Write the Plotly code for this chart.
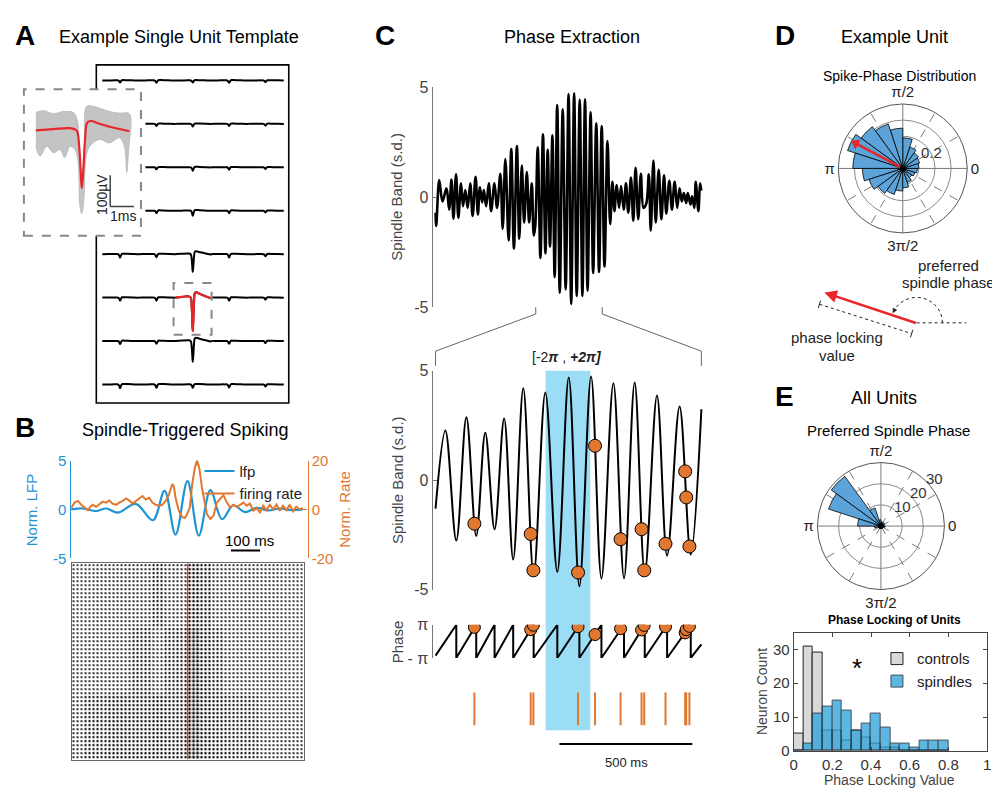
import math
import plotly.graph_objects as go

OFF = 8                      # browser body margin
FW, FH = 1000 - OFF, 794 - OFF
def X(p): return (p - OFF) / FW
def Y(p): return 1 - (p - OFF) / FH

FONT = "Liberation Sans, Arial, Helvetica, sans-serif"
BLUE = "#1E94D2"
ORANGE = "#E2772F"
RED = "#E8262A"
WEDGE = "#5BA3D9"
HIST_BLUE = "#2FA4DC"

# ---------------- DATA ----------------
# A: spike template (mean waveform) and cloud of single spikes
template_t = [0, 0.74, 1.43, 1.71, 1.82, 1.88, 1.93, 1.99, 2.07, 2.15, 2.29, 2.68, 3.24, 3.93]
template_uv = [0, 4, 7, 0, -51, -124, -185, -135, -29, 23, 30, 21, 9, -3]
cloud_up_t = [0, 0.32, 0.74, 1.15, 1.57, 1.74, 1.82, 1.93, 2.04, 2.13, 2.33, 2.68, 3.10, 3.51, 3.93]
cloud_up_uv = [57, 63, 53, 60, 57, 34, -51, -156, -51, 76, 78, 71, 60, 55, 53]
cloud_lo_t = [0, 0.18, 0.46, 0.74, 1.01, 1.22, 1.43, 1.64, 1.78, 1.85, 1.93, 2.01, 2.10, 2.26, 2.68, 3.10, 3.51, 3.72, 3.82, 3.90, 3.93]
cloud_lo_uv = [-51, -82, -51, -72, -61, -87, -51, -61, -103, -240, -266, -230, -93, -51, -29, -40, -24, -51, -135, -61, -40]
channel_amp = [
    [0.06, 0.07, 0.06, 0.07, 0.05],
    [0.05, 0.06, 0.08, 0.06, 0.05],
    [0.05, 0.06, 0.10, 0.07, 0.05],
    [0.06, 0.07, 0.15, 0.07, 0.05],
    [0.10, 0.09, 0.53, 0.10, 0.06],
    [0.09, 0.09, 1.00, 0.09, 0.06],
    [0.09, 0.08, 0.62, 0.08, 0.06],
    [0.11, 0.10, 0.10, 0.09, 0.06],
]
red_channel = 5
red_column = 2

# B: spindle-triggered average
lfp_t = [-400, -360, -315, -280, -240, -178, -119, -79, -41, 0, 39, 79, 119, 158, 198, 238, 278, 318, 358, 398]
lfp_v = [0, 0.1, -0.17, 0.1, -0.33, 0.57, -1.1, 1.9, -2.57, 2.9, -2.67, 1.97, -1.0, 0.43, -0.27, 0.17, -0.1, 0.1, -0.07, 0]
rate_t = [-400, -389, -377, -366, -354, -343, -335, -326, -315, -303, -292, -280, -269, -258, -246, -235, -223, -212, -201, -189,
          -178, -166, -155, -144, -132, -121, -109, -98, -87, -75, -64, -52, -47, -41, -30, -18, -9, -1, 8, 16,
          25, 33, 41, 50, 59, 67, 79, 90, 101, 113, 124, 136, 147, 158, 170, 181, 193, 204, 215, 227,
          238, 250, 261, 272, 284, 295, 307, 318, 329, 341, 352, 364, 375, 386, 398]
rate_v = [0.8, 2.8, 3.5, 1.9, 0.8, -0.3, 1.1, 1.9, 1.1, 2.4, 3.2, 2.8, 3.7, 2.4, 1.9, 2.8, 3.5, 4.5, 3.7, 2.4,
          3.5, 4.8, 5.5, 4.1, 4.8, 2.8, 1.9, 1.5, 1.9, 3.5, 6.1, 10.4, 9.5, 4.8, -0.5, -3.2, -3.5, -1.9, 0.8, 10.1,
          16.8, 20.1, 16.8, 8.8, 2.8, -1.9, -3.9, -2.5, 2.8, 4.5, 5.9, 2.8, 0.8, 1.9, 1.1, 1.9, 2.8, 1.5, 2.4, -0.5,
          0.5, -1.2, 1.5, -0.3, 1.9, 0.1, 2.1, -0.5, 1.5, -0.3, 1.9, -0.8, 1.1, 0.1, 0.5]
# raster: spike ink density per 40-ms bin, three blocks of trials (top, middle, bottom)
raster_bin_ms = [-380, -340, -300, -260, -220, -180, -140, -100, -60, -20, 20, 60, 100, 140, 180, 220, 260, 300, 340, 380]
raster_density = [
    [0.20, 0.21, 0.23, 0.23, 0.24, 0.24, 0.24, 0.25, 0.24, 0.24, 0.36, 0.28, 0.24, 0.23, 0.22, 0.23, 0.22, 0.22, 0.21, 0.20],
    [0.21, 0.22, 0.23, 0.24, 0.24, 0.25, 0.25, 0.24, 0.25, 0.26, 0.38, 0.29, 0.25, 0.24, 0.23, 0.23, 0.22, 0.23, 0.21, 0.21],
    [0.24, 0.25, 0.26, 0.27, 0.27, 0.28, 0.28, 0.29, 0.28, 0.28, 0.40, 0.31, 0.27, 0.26, 0.25, 0.25, 0.24, 0.24, 0.23, 0.23],
]

# C: spindle band signal (extrema), 4 s overview; middle 1 s zoom
top_pre_t = [0, 10, 55, 104, 164, 204, 239, 269, 308, 343, 383, 413, 448, 483, 522, 557, 602, 637, 667, 701,
             726, 761, 801, 836, 886, 925, 975, 1010, 1050, 1099, 1139, 1179, 1224, 1259, 1298, 1333, 1373, 1408, 1448, 1478]
top_pre_v = [-0.7, -1.3, 0.78, -0.19, 0.41, -0.56, 0.81, -0.97, 1.04, -0.93, 0.63, -0.41, 0.33, -0.48, 0.63, -0.85, 0.93, -0.78, 0.45, -0.23,
             0.33, -0.41, 0.63, -0.63, 0.63, -0.48, 1.07, -1.44, 1.74, -1.96, 2.19, -2.33, 2.33, -1.89, 1.44, -1.15, 1.15, -1.15, 0.63, -1.74]
zoom_start_ms = 1500
mid_t = [0, 37, 78, 116, 153, 187, 222, 258, 292, 330, 369, 413, 458, 501, 541, 585, 624, 669, 709, 749, 787, 833, 871, 918, 960, 1000]
mid_v = [-1.3, 2.27, -2.76, 2.87, -2.55, 2.16, -2.24, 2.82, -3.63, 4.2, -4.34, 4.0, -4.19, 4.69, -4.85, 4.73, -4.49, 4.43, -4.49, 4.46,
         -4.25, 3.87, -3.45, 3.36, -3.40, 3.24]
top_post_t = [2542, 2587, 2627, 2661, 2691, 2726, 2761, 2791, 2831, 2865, 2900, 2940, 2975, 3010, 3050, 3089, 3129, 3170, 3209, 3238,
              3278, 3313, 3358, 3398, 3438, 3472, 3517, 3557, 3597, 3637, 3671, 3706, 3736, 3771, 3796, 3836, 3860, 3895, 3915, 3955, 3980, 3998]
top_post_v = [-3.15, 2.56, -1.22, 0.70, -0.63, 0.56, -0.48, 0.51, -0.56, 0.63, -0.70, 0.9, -1.07, 1.34, -1.0, 1.07, -0.48, -0.3, 1.04, -1.52,
              1.67, -1.15, 1.25, -1.0, 1.0, -0.74, 0.75, -0.56, 0.70, -0.48, 0.41, -0.19, 0.19, -0.26, 0.19, -0.33, 0.04, -0.48, 0.70, -0.63, 0.63, 0.3]
spk_t = [146, 358, 368, 536, 600, 696, 775, 785, 865, 939, 943, 955]
spk_v = [-1.99, -2.46, -4.12, -4.22, 1.57, -2.70, -2.24, -4.12, -2.91, 0.40, -0.79, -3.03]
spk_phase = [2.65, 2.22, 3.05, 2.77, 1.29, 2.40, 2.16, 3.02, 2.77, 1.60, 2.22, 2.83]
phase_start = -2.7
phase_end = -0.55
window_ms = [414, 582]

# D: spike-phase distribution of example unit (rose, 20 bins)
rose_theta = [9, 27, 45, 63, 81, 99, 117, 135, 153, 171, 189, 207, 225, 243, 261, 279, 297, 315, 333, 351]
rose_d = [0.10, 0.11, 0.12, 0.14, 0.19, 0.25, 0.29, 0.32, 0.36, 0.31, 0.25, 0.22, 0.19, 0.17, 0.14, 0.12, 0.09, 0.07, 0.08, 0.09]
rose_d_ticks = [0.1, 0.2, 0.3, 0.4]
rose_d_labels = ["", "0.2", "", ""]
pref_phase_deg = 152
plv = 0.355

# E: preferred phase of all units (rose, 20 bins) and PLV histograms
rose_e = [1, 2, 1, 2, 2, 3, 9, 29, 26, 11, 3, 1, 1, 1, 1, 1, 1, 1, 1, 2]
rose_e_ticks = [10, 20, 30]
rose_e_labels = ["10", "20", "30"]
plv_bins = [0.025, 0.075, 0.125, 0.175, 0.225, 0.275, 0.325, 0.375, 0.425, 0.475, 0.525, 0.575, 0.625, 0.675, 0.725, 0.775]
controls = [5, 31, 29, 6, 6, 3, 6, 4, 2, 1, 1, 0, 0, 0, 0, 0]
spindles = [0, 2, 11, 13, 15, 12, 6, 8, 11, 7, 2, 2, 1, 3, 3, 3]

# ---------------- FIGURE ----------------
fig = go.Figure()
NOLEG = dict(showlegend=False, hoverinfo="skip")

# ---- A: multichannel template ----
A_PX = (93, 287)
A_PY = (57, 403)
A_XR = [-0.65, 20.27]
A_YR = [-1782, 86]
INSET_PX = (20, 138)
INSET_PY = (82, 232)
def a_x_from_px(p): return A_XR[0] + (p - A_PX[0]) / (A_PX[1] - A_PX[0]) * (A_XR[1] - A_XR[0])
def a_y_from_px(p): return A_YR[1] - (p - A_PY[0]) / (A_PY[1] - A_PY[0]) * (A_YR[1] - A_YR[0])
inset_right = a_x_from_px(INSET_PX[1])
inset_top, inset_bot = a_y_from_px(INSET_PY[0]), a_y_from_px(INSET_PY[1])

SEG = 3.95
ROW_SP = 240
for r, amps in enumerate(channel_amp):
    base = -r * ROW_SP
    hidden_row = inset_bot < base < inset_top
    xs, ys = [], []
    for c, a in enumerate(amps):
        for t, v in zip(template_t, template_uv):
            x = c * SEG + t
            if hidden_row and x < inset_right:
                continue
            xs.append(x)
            ys.append(base + a * v)
    fig.add_trace(go.Scatter(x=xs, y=ys, mode="lines", line=dict(color="black", width=2, shape="spline"),
                             xaxis="x", yaxis="y", **NOLEG))
fig.add_trace(go.Scatter(x=[red_column * SEG + t for t in template_t],
                         y=[-red_channel * ROW_SP + channel_amp[red_channel][red_column] * v for v in template_uv],
                         mode="lines", line=dict(color=RED, width=2.2, shape="spline"), xaxis="x", yaxis="y", **NOLEG))

# ---- A inset ----
fig.add_trace(go.Scatter(x=cloud_up_t + cloud_lo_t[::-1], y=cloud_up_uv + cloud_lo_uv[::-1], fill="toself",
                         fillcolor="#C4C4C4", mode="lines", line=dict(color="#BDBDBD", width=1, shape="spline"),
                         xaxis="x2", yaxis="y2", **NOLEG))
fig.add_trace(go.Scatter(x=template_t, y=template_uv, mode="lines", line=dict(color=RED, width=2.2, shape="spline"),
                         xaxis="x2", yaxis="y2", **NOLEG))

# ---- B top ----
fig.add_trace(go.Scatter(x=lfp_t, y=lfp_v, mode="lines", line=dict(color=BLUE, width=2.2, shape="spline"),
                         name="lfp", xaxis="x3", yaxis="y3", legend="legend", hoverinfo="skip"))
fig.add_trace(go.Scatter(x=rate_t, y=rate_v, mode="lines", line=dict(color=ORANGE, width=2),
                         name="firing rate", xaxis="x3", yaxis="y4", legend="legend", hoverinfo="skip"))

# ---- B raster ----
for b, dens in enumerate(raster_density):
    fig.add_trace(go.Bar(x=raster_bin_ms, y=[1] * len(raster_bin_ms), base=[2 - b] * len(raster_bin_ms), width=40,
                         marker=dict(color="white", line=dict(width=0),
                                     pattern=dict(shape=".", size=4, solidity=dens, fgcolor="black", fgopacity=1)),
                         xaxis="x5", yaxis="y5", **NOLEG))
fig.add_trace(go.Scatter(x=[0, 0], y=[0, 3], mode="lines", line=dict(color="#F03030", width=1.3),
                         xaxis="x5", yaxis="y5", **NOLEG))

# ---- C top ----
top_t = top_pre_t + [zoom_start_ms + t for t in mid_t] + top_post_t
top_v = top_pre_v + mid_v + top_post_v
fig.add_trace(go.Scatter(x=top_t, y=top_v, mode="lines", line=dict(color="black", width=2.6, shape="spline"),
                         xaxis="x6", yaxis="y6", **NOLEG))

# ---- C middle ----
fig.add_trace(go.Scatter(x=mid_t, y=mid_v, mode="lines", line=dict(color="black", width=2, shape="spline"),
                         xaxis="x7", yaxis="y7", **NOLEG))
fig.add_trace(go.Scatter(x=spk_t, y=spk_v, mode="markers",
                         marker=dict(size=13, color=ORANGE, line=dict(color="black", width=1)),
                         xaxis="x7", yaxis="y7", **NOLEG))

# ---- C phase ----
troughs = [t for t, v in zip(mid_t, mid_v) if v < 0 and 0 < t < 1000]
ph_x, ph_y = [0], [phase_start]
for t in troughs:
    ph_x += [t, t]
    ph_y += [math.pi, -math.pi]
ph_x.append(1000)
ph_y.append(phase_end)
fig.add_trace(go.Scatter(x=ph_x, y=ph_y, mode="lines", line=dict(color="black", width=2),
                         xaxis="x8", yaxis="y8", **NOLEG))
fig.add_trace(go.Scatter(x=spk_t, y=spk_phase, mode="markers",
                         marker=dict(size=12, color=ORANGE, line=dict(color="black", width=1)),
                         xaxis="x8", yaxis="y8", **NOLEG))

# ---- C spike ticks ----
tx, ty = [], []
for t in spk_t:
    tx += [t, t, None]
    ty += [0, 1, None]
fig.add_trace(go.Scatter(x=tx, y=ty, mode="lines", line=dict(color=ORANGE, width=2),
                         xaxis="x9", yaxis="y9", **NOLEG))

# ---- D polar ----
fig.add_trace(go.Scatterpolar(r=[0], theta=[0], mode="markers", marker=dict(size=1, opacity=0), subplot="polar", **NOLEG))
fig.add_trace(go.Barpolar(r=rose_d, theta=rose_theta, width=[18] * len(rose_theta),
                          marker=dict(color=WEDGE, line=dict(color="black", width=0.8)), subplot="polar2", **NOLEG))
fig.add_trace(go.Scatterpolar(r=[0, plv * 0.93], theta=[pref_phase_deg, pref_phase_deg], mode="lines",
                              line=dict(color=RED, width=2.5), subplot="polar2", **NOLEG))
fig.add_trace(go.Scatterpolar(r=[plv * 0.93], theta=[pref_phase_deg], mode="markers",
                              marker=dict(symbol="triangle-up", size=10, color=RED, angle=-(pref_phase_deg - 90)),
                              subplot="polar2", **NOLEG))
fig.add_trace(go.Scatterpolar(r=[0], theta=[0], mode="markers", marker=dict(size=6, color="black"),
                              subplot="polar2", **NOLEG))

# ---- E polar ----
fig.add_trace(go.Scatterpolar(r=[0], theta=[0], mode="markers", marker=dict(size=1, opacity=0), subplot="polar3", **NOLEG))
fig.add_trace(go.Barpolar(r=rose_e, theta=rose_theta, width=[18] * len(rose_theta),
                          marker=dict(color=WEDGE, line=dict(color="black", width=0.8)), subplot="polar4", **NOLEG))
fig.add_trace(go.Scatterpolar(r=[0], theta=[0], mode="markers", marker=dict(size=6, color="black"),
                              subplot="polar4", **NOLEG))

# ---- E histogram ----
fig.add_trace(go.Bar(x=plv_bins, y=controls, width=0.05, name="controls",
                     marker=dict(color="#D9D9D9", line=dict(color="#222", width=1)),
                     xaxis="x10", yaxis="y10", legend="legend2", hoverinfo="skip"))
fig.add_trace(go.Bar(x=plv_bins, y=spindles, width=0.05, name="spindles", opacity=0.78,
                     marker=dict(color=HIST_BLUE, line=dict(color="#10202c", width=1)),
                     xaxis="x10", yaxis="y10", legend="legend2", hoverinfo="skip"))

# ---------------- AXES ----------------
lay = {}
lay["xaxis"] = dict(domain=[X(A_PX[0]), X(A_PX[1])], range=A_XR, anchor="y", visible=False)
lay["yaxis"] = dict(domain=[Y(A_PY[1]), Y(A_PY[0])], range=A_YR, anchor="x", visible=False)
lay["xaxis2"] = dict(domain=[X(INSET_PX[0]), X(INSET_PX[1])], range=[-0.5, 4.417], anchor="y2", visible=False)
lay["yaxis2"] = dict(domain=[Y(INSET_PY[1]), Y(INSET_PY[0])], range=[-337.5, 131.25], anchor="x2", visible=False)

lay["xaxis3"] = dict(domain=[X(67), X(306)], range=[-403, 414], visible=False, anchor="y3")
yb = dict(showgrid=False, zeroline=False, ticks="inside", ticklen=4, showline=True, linewidth=1.2)
lay["yaxis3"] = dict(domain=[Y(562), Y(462)], range=[-5, 5], tickvals=[-5, 0, 5], ticktext=["-5", "0", "5"],
                     anchor="x3", linecolor=BLUE, tickcolor=BLUE,
                     tickfont=dict(size=15, color=BLUE, family=FONT), **yb)
lay["yaxis4"] = dict(range=[-20, 20], tickvals=[-20, 0, 20], ticktext=["-20", "0", "20"], overlaying="y3",
                     side="right", anchor="x3", linecolor=ORANGE, tickcolor=ORANGE,
                     tickfont=dict(size=15, color=ORANGE, family=FONT), **yb)

rbox = dict(showline=True, mirror=True, linecolor="#666", linewidth=1, ticks="", showticklabels=False,
            showgrid=False, zeroline=False)
lay["xaxis5"] = dict(domain=[X(68), X(302)], range=[-400, 400], anchor="y5", **rbox)
lay["yaxis5"] = dict(domain=[Y(768), Y(567)], range=[0, 3], anchor="x5", **rbox)

cy = dict(showgrid=False, zeroline=False, ticks="inside", ticklen=4, showline=True, linecolor="#777",
          tickcolor="#777", linewidth=1, tickfont=dict(size=16, color="#444", family=FONT))
lay["xaxis6"] = dict(domain=[X(432), X(705)], range=[-45, 4030], visible=False, anchor="y6")
lay["yaxis6"] = dict(domain=[Y(305), Y(80)], range=[-5, 5], tickvals=[-5, 0, 5], ticktext=["-5", "0", "5"], anchor="x6", **cy)
lay["xaxis7"] = dict(domain=[X(432), X(705)], range=[-11.2, 1007.5], visible=False, anchor="y7")
lay["yaxis7"] = dict(domain=[Y(594), Y(370)], range=[-5, 5], tickvals=[-5, 0, 5], ticktext=["-5", "0", "5"], anchor="x7", **cy)
lay["xaxis8"] = dict(domain=[X(432), X(705)], range=[-11.2, 1007.5], visible=False, anchor="y8")
lay["yaxis8"] = dict(domain=[Y(664), Y(630)], range=[-math.pi, math.pi], tickvals=[-math.pi, math.pi],
                     ticktext=["- π", "π"], anchor="x8", **cy)
lay["xaxis9"] = dict(domain=[X(432), X(705)], range=[-11.2, 1007.5], visible=False, anchor="y9")
lay["yaxis9"] = dict(domain=[Y(733), Y(699)], range=[0, 1], visible=False, anchor="x9")

hx = dict(showgrid=False, zeroline=False, ticks="inside", ticklen=4, showline=True, mirror="ticks",
          linecolor="#444", tickcolor="#444", linewidth=1, tickfont=dict(size=15, color="#333", family=FONT))
lay["xaxis10"] = dict(domain=[X(796), X(991)], range=[0, 1], tickvals=[0, 0.2, 0.4, 0.6, 0.8, 1],
                      ticktext=["0", "0.2", "0.4", "0.6", "0.8", "1"], anchor="y10", **hx)
lay["yaxis10"] = dict(domain=[Y(759), Y(638)], range=[0, 35], tickvals=[0, 10, 20, 30], anchor="x10", **hx)

def polar_grid(cx, cy_, rad, rmax, rtick):
    return dict(domain=dict(x=[X(cx - rad), X(cx + rad)], y=[Y(cy_ + rad), Y(cy_ - rad)]), bgcolor="white",
                angularaxis=dict(rotation=0, direction="counterclockwise", tickmode="array",
                                 tickvals=[0, 90, 180, 270], ticktext=["0", "π/2", "π", "3π/2"],
                                 showgrid=True, gridcolor="#7a7a7a", gridwidth=1, showline=True,
                                 linecolor="#555", linewidth=1, ticks="",
                                 tickfont=dict(size=15, family=FONT, color="#222")),
                radialaxis=dict(range=[0, rmax], tickmode="array", tickvals=rtick, showticklabels=False,
                                showgrid=True, gridcolor="#8a8a8a", showline=False, ticks=""))

def polar_top(cx, cy_, rad, rmax):
    return dict(domain=dict(x=[X(cx - rad), X(cx + rad)], y=[Y(cy_ + rad), Y(cy_ - rad)]),
                bgcolor="rgba(0,0,0,0)",
                angularaxis=dict(rotation=0, direction="counterclockwise", tickmode="array",
                                 tickvals=[30, 60, 120, 150, 210, 240, 300, 330], showticklabels=False,
                                 showgrid=True, gridcolor="#7a7a7a", griddash="dash", showline=False, ticks=""),
                radialaxis=dict(range=[0, rmax], showgrid=False, showticklabels=False, showline=False, ticks=""))

D_C, D_R = (906, 163), 66
E_C, E_R = (884, 529), 65
lay["polar"] = polar_grid(D_C[0], D_C[1], D_R, 0.4, rose_d_ticks)
lay["polar2"] = polar_top(D_C[0], D_C[1], D_R, 0.4)
lay["polar3"] = polar_grid(E_C[0], E_C[1], E_R, 30, rose_e_ticks)
lay["polar4"] = polar_top(E_C[0], E_C[1], E_R, 30)

# ---------------- SHAPES ----------------
def prect(x0, y0, x1, y1, **kw):
    d = dict(type="rect", xref="paper", yref="paper", x0=X(x0), x1=X(x1), y0=Y(y1), y1=Y(y0))
    d.update(kw)
    return d
def pline(pts, color="#666", width=1, dash="solid"):
    path = "M " + " L ".join(f"{X(a):.5f},{Y(b):.5f}" for a, b in pts)
    return dict(type="path", xref="paper", yref="paper", path=path, line=dict(color=color, width=width, dash=dash))

shapes = []
shapes.append(prect(A_PX[0], A_PY[0], A_PX[1], A_PY[1], line=dict(color="black", width=1.6),
                    fillcolor="rgba(0,0,0,0)", layer="below"))
shapes.append(prect(INSET_PX[0], INSET_PY[0], INSET_PX[1], INSET_PY[1], line=dict(color="#888", width=2, dash="dash"),
                    fillcolor="white", layer="below"))
x_lo = red_column * SEG - 0.15
x_hi = red_column * SEG + template_t[-1] + 0.05
y_base = -red_channel * ROW_SP
shapes.append(dict(type="rect", xref="x", yref="y", x0=x_lo, x1=x_hi, y0=y_base - 205, y1=y_base + 81,
                   line=dict(color="#888", width=2, dash="dash"), fillcolor="rgba(0,0,0,0)"))
shapes.append(dict(type="line", xref="x2", yref="y2", x0=3.125, x1=3.125, y0=-143.75, y1=-243.75,
                   line=dict(color="#444", width=1.5)))
shapes.append(dict(type="line", xref="x2", yref="y2", x0=3.125, x1=4.125, y0=-243.75, y1=-243.75,
                   line=dict(color="#444", width=1.5)))
shapes.append(dict(type="line", xref="x3", yref="y3", x0=150, x1=250, y0=-4.2, y1=-4.2,
                   line=dict(color="black", width=2)))
shapes.append(dict(type="rect", xref="x7", yref="paper", x0=window_ms[0], x1=window_ms[1], y0=Y(738), y1=Y(370),
                   fillcolor="#9ADDF5", line=dict(width=0), layer="below"))
shapes.append(pline([(536, 305), (536, 312), (435, 350), (435, 365)]))
shapes.append(pline([(603, 305), (603, 312), (703, 350), (703, 365)]))
shapes.append(dict(type="line", xref="x7", yref="paper", x0=466, x1=966, y0=Y(752), y1=Y(752),
                   line=dict(color="black", width=2)))
shapes.append(pline([(920, 321), (970, 321)], color="#222", width=1, dash="dot"))
shapes.append(pline([(822, 302), (915, 332)], color="#222", width=1, dash="dot"))
for (ex, ey) in [(822, 302), (915, 332)]:
    shapes.append(pline([(ex + 1.2, ey - 3.8), (ex - 1.2, ey + 3.8)], color="#222", width=1))
cxp, cyp, rr = 920, 321, 26
def arcseg(a0, a1):
    k = 4 / 3 * math.tan(math.radians(a1 - a0) / 4)
    p0 = (cxp + rr * math.cos(math.radians(a0)), cyp - rr * math.sin(math.radians(a0)))
    p3 = (cxp + rr * math.cos(math.radians(a1)), cyp - rr * math.sin(math.radians(a1)))
    p1 = (p0[0] - k * rr * math.sin(math.radians(a0)), p0[1] - k * rr * math.cos(math.radians(a0)))
    p2 = (p3[0] + k * rr * math.sin(math.radians(a1)), p3[1] + k * rr * math.cos(math.radians(a1)))
    return p0, p1, p2, p3
s1 = arcseg(0, 90)
s2 = arcseg(90, 158)
def P(p): return f"{X(p[0]):.5f},{Y(p[1]):.5f}"
arc_path = f"M {P(s1[0])} C {P(s1[1])} {P(s1[2])} {P(s1[3])} C {P(s2[1])} {P(s2[2])} {P(s2[3])}"
shapes.append(dict(type="path", xref="paper", yref="paper", path=arc_path, line=dict(color="#222", width=1, dash="dot")))

# ---------------- ANNOTATIONS ----------------
def ann(text, x, y, size=15, color="black", angle=0, xanchor="center", yanchor="middle"):
    return dict(text=text, x=X(x), y=Y(y), xref="paper", yref="paper", showarrow=False, textangle=angle,
                xanchor=xanchor, yanchor=yanchor, font=dict(size=size, color=color, family=FONT))

anns = [
    ann("<b>A</b>", 21, 27, 28), ann("Example Single Unit Template", 176, 28, 18),
    ann("<b>B</b>", 21, 428, 28), ann("Spindle-Triggered Spiking", 182, 431, 18),
    ann("<b>C</b>", 384, 27, 28), ann("Phase Extraction", 573, 28, 18),
    ann("<b>D</b>", 787, 27, 28), ann("Example Unit", 898, 28, 18),
    ann("<b>E</b>", 787, 396, 28), ann("All Units", 887, 398, 18),
    ann("Spike-Phase Distribution", 903, 68, 14),
    ann("Preferred Spindle Phase", 892, 431, 15),
    ann("<b>Phase Locking of Units</b>", 898, 625, 12),
    ann("100µV", 99, 190, 14, "#222", -90),
    ann("1ms", 120, 212, 14, "#222"),
    ann("Norm. LFP", 28, 512, 15, BLUE, -90),
    ann("Norm. Rate", 343, 512, 15, ORANGE, -90),
    ann("100 ms", 247, 544, 15),
    ann("Spindle Band (s.d.)", 396, 192, 15, "#444", -90),
    ann("Spindle Band (s.d.)", 396, 482, 15, "#444", -90),
    ann("Phase", 396, 647, 15, "#444", -90),
    ann("[-2<b><i>π</i></b> , <b><i>+2π]</i></b>", 568, 356, 14, "#222"),
    ann("500 ms", 627, 771, 13, "#222"),
    ann("preferred", 952, 262, 15, "#222"),
    ann("spindle phase", 952, 280, 15, "#222"),
    ann("phase locking", 840, 336, 15, "#222"),
    ann("value", 840, 354, 15, "#222"),
    ann("Neuron Count", 764, 698, 14, "#444", -90),
    ann("Phase Locking Value", 893, 789, 14, "#444"),
    ann("*", 860, 674, 26, "black"),
]
for tv, tl in zip(rose_d_ticks, rose_d_labels):
    if tl:
        rp = tv / 0.4 * D_R
        anns.append(ann(tl, D_C[0] + rp * math.cos(math.radians(30)), D_C[1] - rp * math.sin(math.radians(30)), 15, "#333"))
for tv, tl in zip(rose_e_ticks, rose_e_labels):
    rp = tv / 30 * E_R + 8
    anns.append(ann(tl, E_C[0] + rp * math.cos(math.radians(42)), E_C[1] - rp * math.sin(math.radians(42)), 15, "#333"))

anns.append(dict(x=X(827), y=Y(290), xref="paper", yref="paper", ax=93, ay=31, text="", showarrow=True,
                 arrowhead=2, arrowsize=1, arrowwidth=2.5, arrowcolor=RED))
anns.append(dict(x=X(s2[3][0]), y=Y(s2[3][1]), xref="paper", yref="paper", ax=3, ay=-6, text="", showarrow=True,
                 arrowhead=2, arrowsize=1, arrowwidth=1, arrowcolor="#222"))

fig.update_layout(
    width=FW, height=FH, margin=dict(l=0, r=0, t=0, b=0), paper_bgcolor="white", plot_bgcolor="rgba(0,0,0,0)",
    font=dict(family=FONT, size=14, color="#222"), barmode="overlay", bargap=0,
    shapes=shapes, annotations=anns,
    legend=dict(x=X(197), y=Y(456), xanchor="left", yanchor="top", bgcolor="rgba(0,0,0,0)",
                font=dict(size=15, family=FONT), itemwidth=30, tracegroupgap=0),
    legend2=dict(x=X(880), y=Y(648), xanchor="left", yanchor="top", bgcolor="rgba(0,0,0,0)",
                 font=dict(size=15, family=FONT), itemwidth=30, tracegroupgap=0),
    **lay,
)

fig.write_html("out.html")
